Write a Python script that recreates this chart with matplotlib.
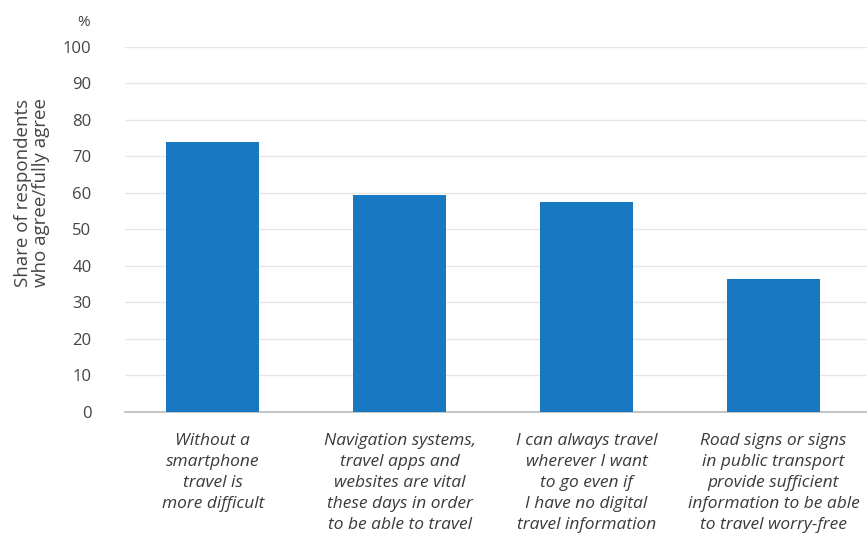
import matplotlib
matplotlib.use("Agg")
import matplotlib.pyplot as plt

categories = [
    "Without a\nsmartphone\ntravel is\nmore difficult",
    "Navigation systems,\ntravel apps and\nwebsites are vital\nthese days in order\nto be able to travel",
    "I can always travel\nwherever I want\nto go even if\nI have no digital\ntravel information",
    "Road signs or signs\nin public transport\nprovide sufficient\ninformation to be able\nto travel worry-free",
]
values = [74, 59.5, 57.5, 36.5]
yticks = [0, 10, 20, 30, 40, 50, 60, 70, 80, 90, 100]

plt.rcParams['font.family'] = ['Open Sans', 'DejaVu Sans']

fig = plt.figure(figsize=(8.67, 5.5), dpi=100)
ax = fig.add_axes([0.144, 0.251, 0.856, 0.664])

x = list(range(len(categories)))
ax.bar(x, values, width=0.5, color="#1878c2", zorder=3)

ax.set_xlim(-0.47, 3.5)
ax.set_ylim(0, 100)
ax.set_yticks(yticks)
ax.set_yticklabels([str(v) for v in yticks], fontsize=12, color="#444444")
ax.set_xticks(x)
ax.set_xticklabels(categories, fontsize=12.5, style="italic", color="#3a3a3a", linespacing=1.42)
ax.tick_params(axis="both", length=0)
ax.tick_params(axis="y", pad=24)
ax.tick_params(axis="x", pad=15)

ax.grid(axis="y", color="#e6e6e6", linewidth=1, zorder=0)
for s in ["top", "right", "left"]:
    ax.spines[s].set_visible(False)
ax.spines["bottom"].set_color("#bbbbbb")
ax.spines["bottom"].set_linewidth(1.2)

fig.text(90 / 867, 1 - 22 / 550, "%", fontsize=11, color="#444444", ha="right", va="center")
fig.text(32 / 867, 1 - 193 / 550, "Share of respondents\nwho agree/fully agree", fontsize=13.5,
         color="#444444", rotation=90, ha="center", va="center", linespacing=1.0)

fig.savefig("out.png", dpi=100, facecolor="white")
